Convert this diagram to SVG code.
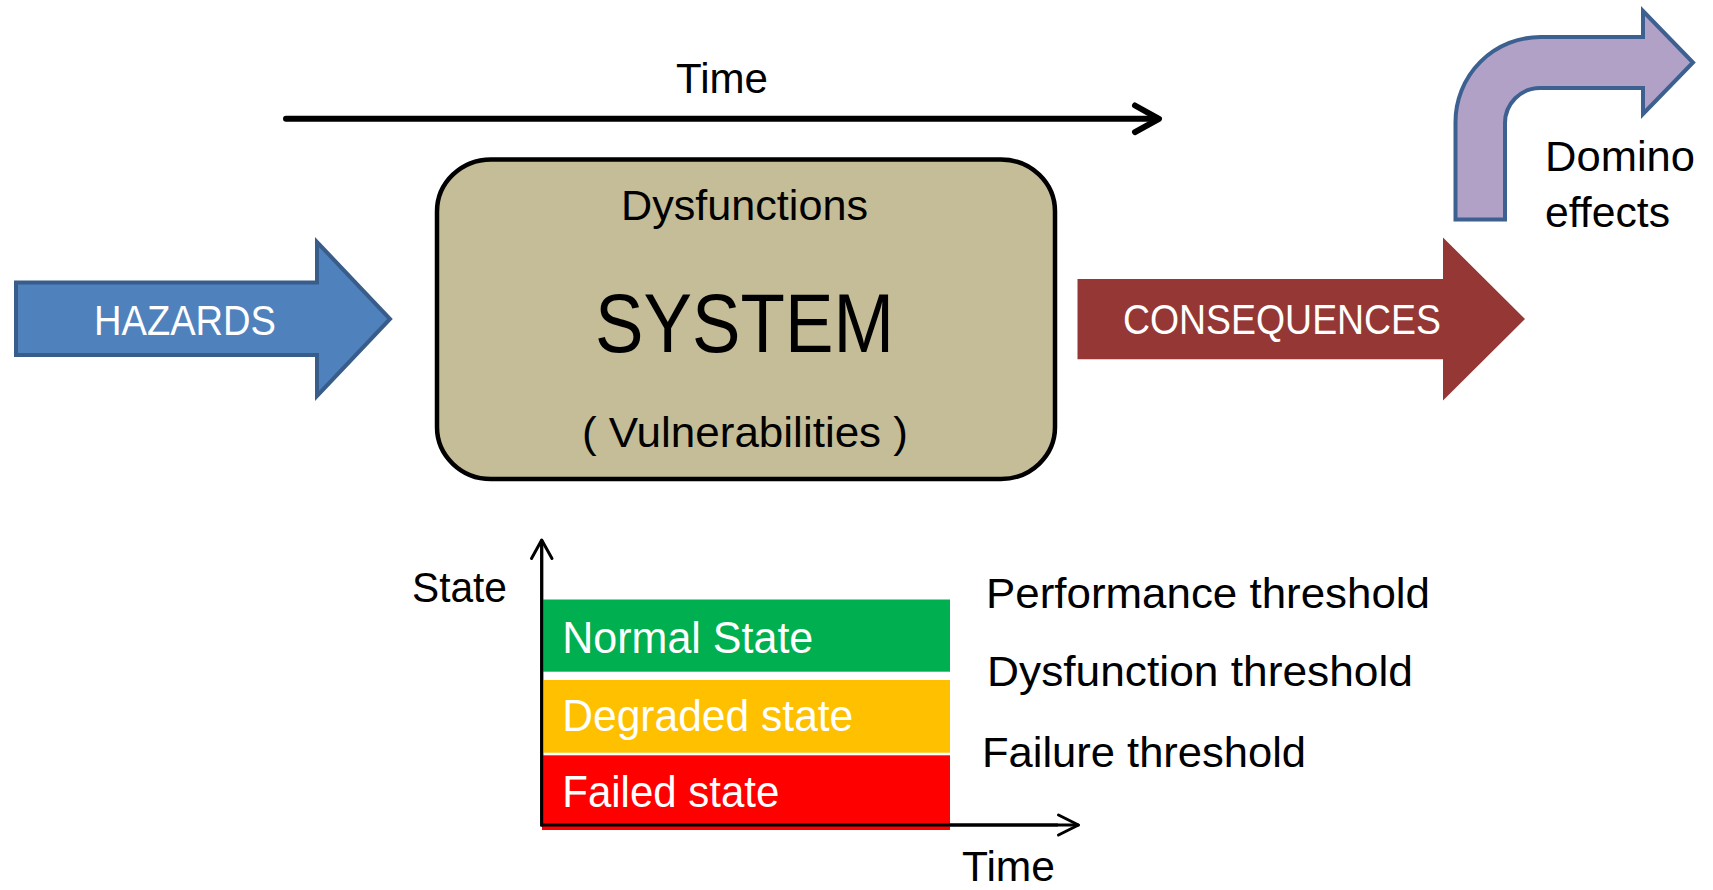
<svg xmlns="http://www.w3.org/2000/svg" width="1713" height="890" viewBox="0 0 1713 890">
<style>
text{font-family:"Liberation Sans",Arial,sans-serif;font-size:42px;fill:#000}
.w{fill:#fff}
.ax{fill:none;stroke:#000;stroke-linecap:round;stroke-linejoin:round}
</style>
<rect width="1713" height="890" fill="#fff"/>
<g id="connectors">
  <g id="time-top">
    <line class="ax" x1="286" y1="118.8" x2="1157" y2="118.8" stroke-width="6" stroke-linecap="butt"/>
    <polyline class="ax" points="1135,105.5 1159,118.8 1135,132.1" stroke-width="6"/>
  </g>
  <g id="state-axes">
    <polyline class="ax" points="541.7,540.5 541.7,825 1078,825" stroke-width="3" stroke-linejoin="miter" stroke-linecap="butt"/>
    <polyline class="ax" points="531.5,558.5 541.7,540 552,558.5" stroke-width="3"/>
    <polyline class="ax" points="1058.5,815 1078.5,825 1058.5,835" stroke-width="3"/>
  </g>
</g>
<g id="node-time-label"><text x="676" y="93" textLength="92" lengthAdjust="spacingAndGlyphs">Time</text></g>
<g id="node-hazards">
  <polygon points="16,282.5 317,282.5 317,242 390,319 317,396 317,355 16,355" fill="#4f81bd" stroke="#385d8a" stroke-width="4"/>
  <text class="w" x="94" y="335" textLength="182" lengthAdjust="spacingAndGlyphs">HAZARDS</text>
</g>
<g id="node-system">
  <rect x="437" y="159.5" width="618" height="319.5" rx="54" ry="52" fill="#c4bd97" stroke="#000" stroke-width="4.5"/>
  <text x="621" y="220" textLength="247" lengthAdjust="spacingAndGlyphs">Dysfunctions</text>
  <text x="595" y="352" style="font-size:84px" textLength="299" lengthAdjust="spacingAndGlyphs">SYSTEM</text>
  <text x="582" y="447" textLength="326" lengthAdjust="spacingAndGlyphs">( Vulnerabilities )</text>
</g>
<g id="node-consequences">
  <polygon points="1077.5,279 1443,279 1443,237.5 1525,319 1443,400.5 1443,359.3 1077.5,359.3" fill="#953735"/>
  <text class="w" x="1123" y="334.3" textLength="318" lengthAdjust="spacingAndGlyphs">CONSEQUENCES</text>
</g>
<g id="node-domino">
  <path d="M1455.5,219.5 L1455.5,122 A85,85 0 0 1 1540.5,37 L1643,37 L1643,11 L1693,62.5 L1643,114 L1643,88 L1540,88 A35,35 0 0 0 1505,123 L1505,219.5 Z" fill="#b2a1c7" stroke="#3c6191" stroke-width="4" stroke-linejoin="miter"/>
  <text x="1545" y="170.5" textLength="150" lengthAdjust="spacingAndGlyphs">Domino</text>
  <text x="1545" y="226.5" textLength="125" lengthAdjust="spacingAndGlyphs">effects</text>
</g>
<g id="node-state-label"><text x="412" y="601.7" textLength="95" lengthAdjust="spacingAndGlyphs">State</text></g>
<g id="node-normal">
  <rect x="543" y="599.5" width="407" height="72.2" fill="#00b050"/>
  <text class="w" x="562.3" y="653.3" style="font-size:44px" textLength="251" lengthAdjust="spacingAndGlyphs">Normal State</text>
</g>
<g id="node-degraded">
  <rect x="543" y="680" width="407" height="72.7" fill="#ffc000"/>
  <text class="w" x="562.3" y="730.7" style="font-size:44px" textLength="291" lengthAdjust="spacingAndGlyphs">Degraded state</text>
</g>
<g id="node-failed">
  <rect x="542" y="755.3" width="408" height="74.7" fill="#ff0000"/>
  <text class="w" x="562.3" y="807.3" style="font-size:44px" textLength="217" lengthAdjust="spacingAndGlyphs">Failed state</text>
</g>
<g id="node-axis-redraw">
  <line x1="541.7" y1="825" x2="1058" y2="825" stroke="#000" stroke-width="3"/>
  <line x1="541.7" y1="540.5" x2="541.7" y2="826.5" stroke="#000" stroke-width="3"/>
</g>
<g id="node-thresholds">
  <text x="986" y="608.3" textLength="444" lengthAdjust="spacingAndGlyphs">Performance threshold</text>
  <text x="987" y="686" textLength="426" lengthAdjust="spacingAndGlyphs">Dysfunction threshold</text>
  <text x="982" y="767.3" textLength="324" lengthAdjust="spacingAndGlyphs">Failure threshold</text>
</g>
<g id="node-time-bottom"><text x="962" y="881" textLength="93" lengthAdjust="spacingAndGlyphs">Time</text></g>
</svg>
